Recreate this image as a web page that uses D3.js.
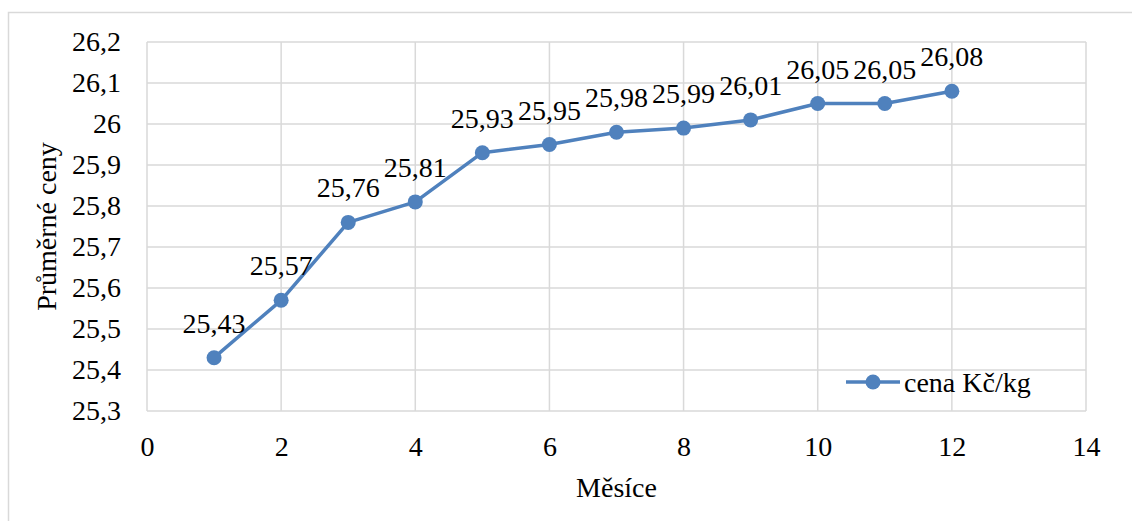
<!DOCTYPE html>
<html>
<head>
<meta charset="utf-8">
<script src="https://cdn.jsdelivr.net/npm/d3@7"></script>
<style>
  html, body { margin: 0; padding: 0; background: #fff; }
  svg { display: block; }
</style>
</head>
<body>
<svg id="chart" width="1132" height="521"></svg>
<script>
// Monthly average price (Kč/kg)
const months = [1, 2, 3, 4, 5, 6, 7, 8, 9, 10, 11, 12];
const prices = [25.43, 25.57, 25.76, 25.81, 25.93, 25.95, 25.98, 25.99, 26.01, 26.05, 26.05, 26.08];
const xTicks = [0, 2, 4, 6, 8, 10, 12, 14];
const yTicks = [25.3, 25.4, 25.5, 25.6, 25.7, 25.8, 25.9, 26.0, 26.1, 26.2];
const seriesName = "cena Kč/kg";
const xTitle = "Měsíce";
const yTitle = "Průměrné ceny";

const svg = d3.select("#chart");
const W = 1132, H = 521;
const plot = { left: 147, top: 42, right: 1086, bottom: 411 };
const color = "#4f81bd";
const grid = "#d9d9d9";
const font = "'Liberation Serif'";
const fs = "28px";

const fmt = v => d3.format("~g")(+v.toFixed(2)).replace(".", ",");
const styleText = sel => sel.style("font-family", font).style("font-size", fs).style("fill", "#000");

// outer chart frame
svg.append("rect")
  .attr("x", 8.5).attr("y", 12.5)
  .attr("width", W).attr("height", H)
  .attr("fill", "none").attr("stroke", grid).attr("stroke-width", 1.5);

const x = d3.scaleLinear().domain([0, 14]).range([plot.left, plot.right]);
const y = d3.scaleLinear().domain([25.3, 26.2]).range([plot.bottom, plot.top]);

// gridlines
const g = svg.append("g");
g.selectAll(".hg").data(yTicks).join("line")
  .attr("x1", plot.left).attr("x2", plot.right)
  .attr("y1", d => y(d)).attr("y2", d => y(d))
  .attr("stroke", grid).attr("stroke-width", 1.5);
g.selectAll(".vg").data(xTicks).join("line")
  .attr("y1", plot.top).attr("y2", plot.bottom)
  .attr("x1", d => x(d)).attr("x2", d => x(d))
  .attr("stroke", grid).attr("stroke-width", 1.5);

// tick labels drawn by d3 axes, axis lines hidden
const yAxis = svg.append("g")
  .attr("transform", `translate(${plot.left},0)`)
  .call(d3.axisLeft(y).tickValues(yTicks).tickSize(0).tickPadding(26).tickFormat(fmt));
const xAxis = svg.append("g")
  .attr("transform", `translate(0,${plot.bottom})`)
  .call(d3.axisBottom(x).tickValues(xTicks).tickSize(0).tickPadding(25).tickFormat(fmt));
[yAxis, xAxis].forEach(a => {
  a.select(".domain").remove();
  a.selectAll("text").call(styleText);
});

// axis titles
svg.append("text")
  .attr("x", (plot.left + plot.right) / 2).attr("y", 497)
  .attr("text-anchor", "middle")
  .text(xTitle).call(styleText);
svg.append("text")
  .attr("transform", `translate(56,${(plot.top + plot.bottom) / 2}) rotate(-90)`)
  .attr("text-anchor", "middle")
  .text(yTitle).call(styleText);

// series line and markers
const data = months.map((m, i) => ({ m, v: prices[i] }));
svg.append("path")
  .datum(data)
  .attr("fill", "none").attr("stroke", color).attr("stroke-width", 3.5)
  .attr("stroke-linejoin", "round")
  .attr("d", d3.line().x(d => x(d.m)).y(d => y(d.v)));

svg.selectAll(".pt").data(data).join("circle")
  .attr("cx", d => x(d.m)).attr("cy", d => y(d.v)).attr("r", 7.5)
  .attr("fill", color);

// value labels above each point
svg.selectAll(".lbl").data(data).join("text")
  .attr("x", d => x(d.m)).attr("y", d => y(d.v) - 25)
  .attr("text-anchor", "middle")
  .text(d => fmt(d.v)).call(styleText);

// legend
const lg = svg.append("g").attr("transform", "translate(846,382)");
lg.append("line").attr("x1", 0).attr("x2", 54).attr("y1", 0).attr("y2", 0)
  .attr("stroke", color).attr("stroke-width", 3.5);
lg.append("circle").attr("cx", 27).attr("cy", 0).attr("r", 7.5).attr("fill", color);
lg.append("text").attr("x", 58).attr("y", 10).text(seriesName).call(styleText);
</script>
</body>
</html>
